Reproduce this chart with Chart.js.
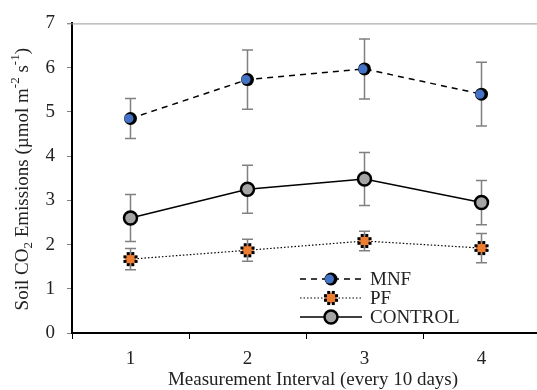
<!DOCTYPE html>
<html>
<head>
<meta charset="utf-8">
<script src="https://cdn.jsdelivr.net/npm/chart.js@4/dist/chart.umd.min.js"></script>
<style>
  html, body { margin: 0; padding: 0; overflow: hidden; background: #fff; }
  #wrap { width: 541px; height: 390px; }
</style>
</head>
<body>
<div id="wrap"><canvas id="myChart"></canvas></div>
<script>
// measurement intervals
var categories = ['1', '2', '3', '4'];

// soil CO2 emissions, mean and error per interval
var mnf = [4.85, 5.73, 5.97, 5.40];
var mnfErr = [0.45, 0.67, 0.68, 0.72];
var pf = [1.67, 1.87, 2.08, 1.92];
var pfErr = [0.24, 0.25, 0.22, 0.33];
var control = [2.60, 3.25, 3.48, 2.95];
var controlErr = [0.53, 0.54, 0.60, 0.50];

var yTicks = [0, 1, 2, 3, 4, 5, 6, 7];

var serif = '"Liberation Serif", "Times New Roman", serif';
var fontSize = 19;

var errorSets = [mnfErr, pfErr, controlErr];

// MNF marker: black disc with blue dot shifted left
function drawMnf(ctx, x, y) {
    ctx.beginPath();
    ctx.arc(x, y, 6.5, 0, Math.PI * 2);
    ctx.fillStyle = '#000';
    ctx.fill();
    ctx.beginPath();
    ctx.arc(x - 1.6, y, 4.6, 0, Math.PI * 2);
    ctx.fillStyle = '#4472C4';
    ctx.fill();
}

// PF marker: orange disc with black dots round it
function drawPf(ctx, x, y) {
    ctx.beginPath();
    ctx.arc(x, y, 5.5, 0, Math.PI * 2);
    ctx.fillStyle = '#ED7D31';
    ctx.fill();
    ctx.fillStyle = '#000';
    for (var k = 0; k < 8; k++) {
        var a = k * Math.PI / 4 + Math.PI / 8;
        ctx.fillRect(x + Math.cos(a) * 6 - 1.5, y + Math.sin(a) * 6 - 1.5, 3, 3);
    }
}

// CONTROL marker: grey disc with black ring
function drawControl(ctx, x, y) {
    ctx.beginPath();
    ctx.arc(x, y, 6.5, 0, Math.PI * 2);
    ctx.fillStyle = '#A5A5A5';
    ctx.fill();
    ctx.lineWidth = 2.5;
    ctx.strokeStyle = '#000';
    ctx.stroke();
}

var markers = [drawMnf, drawPf, drawControl];

var extras = {
    id: 'extras',
    beforeDatasetsDraw: function(chart) {
        var ctx = chart.ctx;
        var x = chart.scales.x, y = chart.scales.y;
        ctx.save();
        ctx.strokeStyle = '#808080';
        ctx.lineWidth = 1.5;
        chart.data.datasets.forEach(function(ds, d) {
            var err = errorSets[d];
            ds.data.forEach(function(v, i) {
                var px = x.getPixelForValue(i);
                var top = y.getPixelForValue(v + err[i]);
                var bot = y.getPixelForValue(v - err[i]);
                ctx.beginPath();
                ctx.moveTo(px, top); ctx.lineTo(px, bot);
                ctx.moveTo(px - 5.5, top); ctx.lineTo(px + 5.5, top);
                ctx.moveTo(px - 5.5, bot); ctx.lineTo(px + 5.5, bot);
                ctx.stroke();
            });
        });
        // top frame line
        ctx.strokeStyle = '#999';
        ctx.lineWidth = 1;
        ctx.beginPath();
        ctx.moveTo(chart.chartArea.left - 5, chart.chartArea.top + 0.5);
        ctx.lineTo(chart.chartArea.right, chart.chartArea.top + 0.5);
        ctx.stroke();
        ctx.restore();
    },
    afterDatasetsDraw: function(chart) {
        var ctx = chart.ctx;
        ctx.save();
        chart.data.datasets.forEach(function(ds, d) {
            chart.getDatasetMeta(d).data.forEach(function(pt) {
                markers[d](ctx, pt.x, pt.y);
            });
        });
        ctx.restore();
    },
    afterDraw: function(chart) {
        var ctx = chart.ctx;
        var area = chart.chartArea;

        // x title
        ctx.save();
        ctx.fillStyle = '#222';
        ctx.font = fontSize + 'px ' + serif;
        ctx.textAlign = 'center';
        ctx.textBaseline = 'middle';
        ctx.fillText('Measurement Interval (every 10 days)', 313, 380);
        ctx.restore();

        // y title with sub/superscripts
        ctx.save();
        ctx.translate(23, (area.top + area.bottom) / 2 + 1);
        ctx.rotate(-Math.PI / 2);
        ctx.fillStyle = '#222';
        ctx.textBaseline = 'middle';
        var parts = [
            ['Soil CO', fontSize, 0],
            ['2', 13, 6],
            [' Emissions (\u00b5mol m', fontSize, 0],
            ['-2', 13, -7],
            [' s', fontSize, 0],
            ['-1', 13, -7],
            [')', fontSize, 0]
        ];
        var total = 0;
        parts.forEach(function(p) {
            ctx.font = p[1] + 'px ' + serif;
            total += ctx.measureText(p[0]).width;
        });
        var cx = -total / 2;
        parts.forEach(function(p) {
            ctx.font = p[1] + 'px ' + serif;
            ctx.fillText(p[0], cx, p[2]);
            cx += ctx.measureText(p[0]).width;
        });
        ctx.restore();

        // legend
        ctx.save();
        var rows = [
            { label: 'MNF', ds: chart.data.datasets[0], y: 279 },
            { label: 'PF', ds: chart.data.datasets[1], y: 298 },
            { label: 'CONTROL', ds: chart.data.datasets[2], y: 317 }
        ];
        rows.forEach(function(r, d) {
            ctx.strokeStyle = '#000';
            ctx.lineWidth = r.ds.borderWidth;
            ctx.setLineDash(r.ds.borderDash || []);
            ctx.beginPath();
            ctx.moveTo(300, r.y); ctx.lineTo(362, r.y);
            ctx.stroke();
            ctx.setLineDash([]);
            markers[d](ctx, 331, r.y);
            ctx.fillStyle = '#222';
            ctx.font = fontSize + 'px ' + serif;
            ctx.textBaseline = 'middle';
            ctx.fillText(r.label, 370, r.y + 1);
        });
        ctx.restore();
    }
};

var chartdata = {
    labels: categories,
    datasets: [
        {
            label: 'MNF',
            data: mnf,
            borderColor: '#000',
            borderWidth: 1.5,
            borderDash: [6, 5],
            pointRadius: 0
        },
        {
            label: 'PF',
            data: pf,
            borderColor: '#000',
            borderWidth: 1.2,
            borderDash: [1.5, 2],
            pointRadius: 0
        },
        {
            label: 'CONTROL',
            data: control,
            borderColor: '#000',
            borderWidth: 1.5,
            pointRadius: 0
        }
    ]
};

var ctx = 'myChart';

var lineGraph = new Chart(ctx, {
    type: 'line',
    data: chartdata,
    plugins: [extras],
    options: {
        responsive: true,
        maintainAspectRatio: false,
        animation: false,
        layout: { padding: { top: 19, right: 1, left: 0, bottom: 0 } },
        plugins: {
            legend: { display: false },
            title: { display: false },
            tooltip: { enabled: false }
        },
        scales: {
            x: {
                type: 'category',
                offset: true,
                grid: {
                    offset: true,
                    drawOnChartArea: false,
                    tickLength: 6,
                    color: '#000',
                    tickColor: '#000'
                },
                border: { color: '#000', width: 2 },
                ticks: {
                    color: '#222',
                    padding: 9,
                    font: { family: serif, size: fontSize }
                },
                afterFit: function(scale) { scale.height = 57; }
            },
            y: {
                min: 0,
                max: 7,
                afterBuildTicks: function(scale) {
                    scale.ticks = yTicks.map(function(v) { return { value: v }; });
                },
                grid: {
                    drawOnChartArea: false,
                    tickLength: 5,
                    color: '#808080',
                    tickColor: '#808080'
                },
                border: { color: '#000', width: 2 },
                ticks: {
                    color: '#222',
                    padding: 12,
                    font: { family: serif, size: fontSize }
                },
                afterFit: function(scale) { scale.width = 72; }
            }
        }
    }
});
</script>
</body>
</html>
